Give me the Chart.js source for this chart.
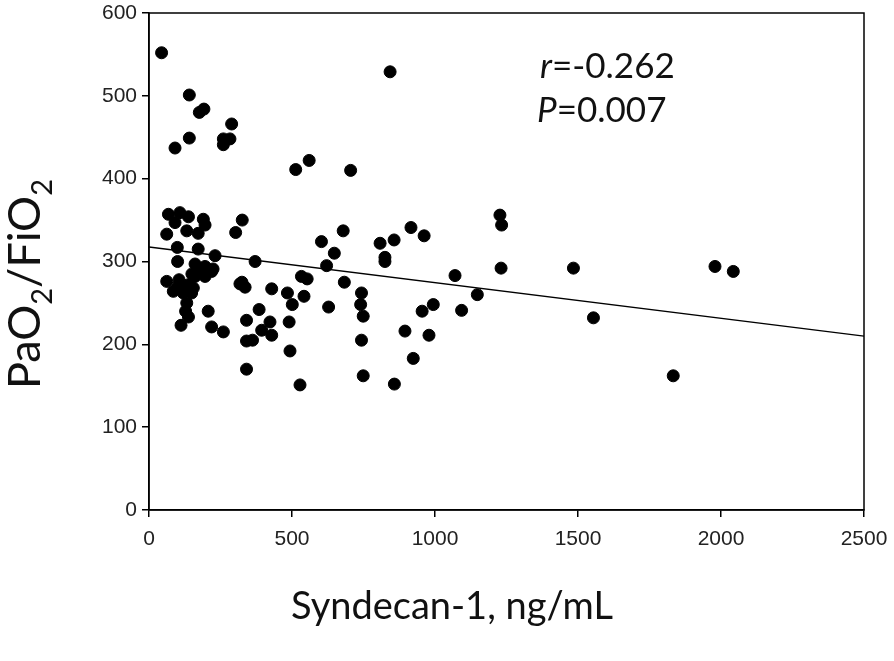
<!DOCTYPE html>
<html>
<head>
<meta charset="utf-8">
<script src="https://cdn.jsdelivr.net/npm/chart.js@4"></script>
<style>
  html, body { margin: 0; padding: 0; background: #fff; }
  #wrap { width: 894px; height: 661px; }
</style>
</head>
<body>
<div id="wrap"><canvas id="chart" width="894" height="661"></canvas></div>
<script>
// Syndecan-1 (ng/mL) vs PaO2/FiO2
const syndecan = [
    44, 843, 141, 176, 192, 141, 91, 289, 260, 283, 260, 513, 560, 705,
    68, 108, 138, 91, 190, 196, 62, 132, 172, 326, 303, 99, 172, 231, 371,
    100, 161, 196, 224, 62, 102, 85, 138, 161, 196, 219, 149, 132, 138, 112,
    207, 219, 260, 318, 336, 325, 429, 484, 501, 533, 553, 542, 628, 603,
    648, 621, 679, 683, 385, 341, 423, 490, 394, 429, 341, 362, 493, 341,
    528, 1227, 1233, 1231, 916, 962, 808, 857, 825, 825, 1070, 1148, 743,
    740, 749, 994, 955, 1093, 895, 979, 743, 924, 749, 858, 1484, 1979,
    2043, 1554, 1833, 120, 150, 170, 128, 155, 105
];
const pfRatio = [
    552, 529, 501, 480, 484, 449, 437, 466, 448, 448, 441, 411, 422, 410,
    357, 359, 354, 347, 351, 344, 333, 337, 334, 350, 335, 317, 315, 307, 300,
    300, 297, 294, 291, 276, 270, 264, 272, 282, 282, 288, 262, 250, 233, 223,
    240, 221, 215, 273, 269, 275, 267, 262, 248, 282, 279, 258, 245, 324,
    310, 295, 337, 275, 242, 229, 227, 227, 217, 211, 204, 205, 192, 170,
    151, 356, 344, 292, 341, 331, 322, 326, 305, 300, 283, 260, 262,
    248, 234, 248, 240, 241, 216, 211, 205, 183, 162, 152, 292, 294,
    288, 232, 162, 262, 285, 290, 240, 268, 278
];

// regression line end points
const fitX = [0, 2500];
const fitY = [317.5, 210];

const yTicks = [0, 100, 200, 300, 400, 500, 600];
const xTicks = [0, 500, 1000, 1500, 2000, 2500];

const scatterPoints = syndecan.map((x, i) => ({ x: x, y: pfRatio[i] }));
const fitPoints = fitX.map((x, i) => ({ x: x, y: fitY[i] }));

// draws the frame, axis titles (with subscripts) and the r / P note
const decorations = {
    id: 'decorations',
    afterDraw(chart) {
        const ctx = chart.ctx;
        const area = chart.chartArea;
        ctx.save();

        // box round the plot
        ctx.strokeStyle = '#000';
        ctx.lineWidth = 1.5;
        ctx.strokeRect(area.left, area.top, area.right - area.left, area.bottom - area.top);

        // x title
        ctx.fillStyle = '#111';
        ctx.font = '38px Lato';
        ctx.textAlign = 'center';
        ctx.textBaseline = 'alphabetic';
        ctx.fillText('Syndecan-1, ng/mL', 452, 619);

        // y title, PaO2/FiO2 with subscripts
        ctx.translate(40, 284);
        ctx.rotate(-Math.PI / 2);
        const parts = [
            { t: 'PaO', sub: false }, { t: '2', sub: true },
            { t: '/FiO', sub: false }, { t: '2', sub: true }
        ];
        const big = '45px Lato';
        const small = '29px Lato';
        let total = 0;
        parts.forEach(p => {
            ctx.font = p.sub ? small : big;
            total += ctx.measureText(p.t).width;
        });
        let cx = -total / 2;
        ctx.textAlign = 'left';
        parts.forEach(p => {
            ctx.font = p.sub ? small : big;
            ctx.fillText(p.t, cx, p.sub ? 12 : 0);
            cx += ctx.measureText(p.t).width;
        });
        ctx.setTransform(1, 0, 0, 1, 0, 0);

        // correlation note
        ctx.textAlign = 'left';
        const note = (label, rest, x, y) => {
            ctx.font = 'italic 35px Lato';
            ctx.fillText(label, x, y);
            const w = ctx.measureText(label).width;
            ctx.font = '35px Lato';
            ctx.fillText(rest, x + w, y);
        };
        note('r', '=-0.262', 540, 78);
        note('P', '=0.007', 537, 122);

        ctx.restore();
    }
};

new Chart(document.getElementById('chart'), {
    type: 'scatter',
    data: {
        datasets: [
            {
                label: 'Patients',
                data: scatterPoints,
                backgroundColor: '#000',
                borderColor: '#000',
                pointRadius: 6,
                pointHoverRadius: 6,
                order: 1
            },
            {
                type: 'line',
                label: 'Fit',
                data: fitPoints,
                borderColor: '#000',
                borderWidth: 1.3,
                pointRadius: 0,
                fill: false,
                order: 2
            }
        ]
    },
    options: {
        responsive: false,
        animation: false,
        layout: { padding: { top: 13, right: 30, left: 0, bottom: 0 } },
        plugins: {
            legend: { display: false },
            tooltip: { enabled: false }
        },
        scales: {
            x: {
                type: 'linear',
                min: 0,
                max: 2500,
                afterBuildTicks: (axis) => { axis.ticks = xTicks.map(v => ({ value: v })); },
                afterFit: (axis) => {
                    axis.height = 151;
                    axis.paddingLeft = 0;
                    axis.paddingRight = 0;
                },
                border: { display: true, color: '#000', width: 1.5 },
                grid: { drawOnChartArea: false, drawTicks: true, tickLength: 7, color: '#000', lineWidth: 1.5 },
                ticks: {
                    color: '#222',
                    font: { family: 'Liberation Sans', size: 21 },
                    padding: 10,
                    maxRotation: 0,
                    callback: (v) => String(v)
                }
            },
            y: {
                type: 'linear',
                min: 0,
                max: 600,
                afterBuildTicks: (axis) => { axis.ticks = yTicks.map(v => ({ value: v })); },
                afterFit: (axis) => {
                    axis.width = 149;
                    axis.paddingTop = 0;
                    axis.paddingBottom = 0;
                },
                border: { display: true, color: '#000', width: 1.5 },
                grid: { drawOnChartArea: false, drawTicks: true, tickLength: 7, color: '#000', lineWidth: 1.5 },
                ticks: {
                    color: '#222',
                    font: { family: 'Liberation Sans', size: 21 },
                    padding: 5,
                    callback: (v) => String(v)
                }
            }
        }
    },
    plugins: [decorations]
});
</script>
</body>
</html>
